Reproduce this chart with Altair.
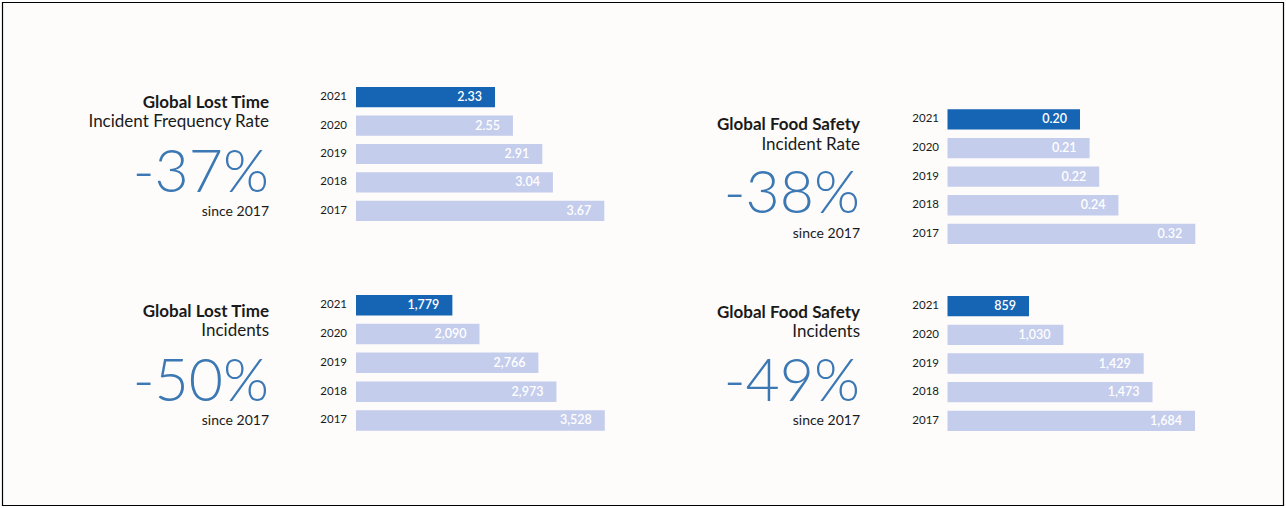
import altair as alt
import pandas as pd

# ---- data ----
years = ["2021", "2020", "2019", "2018", "2017"]
lost_time_rate = [2.33, 2.55, 2.91, 3.04, 3.67]
food_safety_rate = [0.20, 0.21, 0.22, 0.24, 0.32]
lost_time_incidents = [1779, 2090, 2766, 2973, 3528]
food_safety_incidents = [859, 1030, 1429, 1473, 1684]

titles = ["Global Lost Time", "Global Food Safety", "Global Lost Time", "Global Food Safety"]
subtitles = ["Incident Frequency Rate", "Incident Rate", "Incidents", "Incidents"]
changes = ["-37%", "-38%", "-50%", "-49%"]
since_label = "since 2017"
series = [lost_time_rate, food_safety_rate, lost_time_incidents, food_safety_incidents]
formats = [".2f", ".2f", ",d", ",d"]

# ---- layout / style ----
DARK = "#1565b4"
LIGHT = "#c5cdec"
BIG = "#3c78b4"
TXT = "#1a1a1a"
FONT = "Lato"
W, H = 1286, 508

layout = [
    dict(tx=269, yx=347, xr=[356, 604.3], dmin=0.626, yr=[87, 221], tb=[108, 127, 192, 216]),
    dict(tx=860, yx=939, xr=[947.5, 1195.3], dmin=0.0621, yr=[109.3, 244], tb=[130, 150, 213, 238]),
    dict(tx=269, yx=347, xr=[356, 604.8], dmin=673, yr=[295, 430.7], tb=[317, 336, 401, 425]),
    dict(tx=860, yx=939, xr=[947.5, 1195], dmin=454, yr=[296, 431], tb=[318, 337, 401, 425]),
]

border = alt.Chart(pd.DataFrame({"a": [0]})).mark_rect(
    fill="#fdfcfb", stroke="#000000", strokeWidth=1.2
).encode(x=alt.value(2.5), x2=alt.value(1283.5), y=alt.value(2.5), y2=alt.value(505.5))

panels = []
for i, vals in enumerate(series):
    L = layout[i]
    df = pd.DataFrame({"year": years, "value": vals,
                       "current": [y == "2021" for y in years]})
    xs = alt.Scale(domain=[L["dmin"], max(vals)], range=L["xr"], zero=False, nice=False)
    ys = alt.Scale(domain=years, range=L["yr"], paddingInner=0.29, paddingOuter=0)
    base = alt.Chart(df)
    bars = base.mark_bar(cornerRadius=0).encode(
        x=alt.X("value:Q", scale=xs, axis=None),
        x2=alt.datum(L["dmin"]),
        y=alt.Y("year:N", scale=ys, axis=None),
        color=alt.condition(alt.datum.current, alt.value(DARK), alt.value(LIGHT)),
    )
    labels = base.mark_text(align="right", baseline="middle", dx=-13, font=FONT,
                            fontSize=12.5, fontWeight=600, color="white").encode(
        x=alt.X("value:Q", scale=xs, axis=None),
        y=alt.Y("year:N", scale=ys, axis=None),
        text=alt.Text("value:Q", format=formats[i]),
    )
    yl = base.mark_text(align="right", baseline="middle", font=FONT, fontSize=11.5,
                        color=TXT).encode(
        x=alt.value(L["yx"]),
        y=alt.Y("year:N", scale=ys, axis=None),
        text="year:N",
    )
    tdf = pd.DataFrame({"title": [titles[i]], "subtitle": [subtitles[i]],
                        "change": [changes[i]], "since": [since_label]})
    tb = alt.Chart(tdf)
    t1 = tb.mark_text(align="right", baseline="alphabetic", font=FONT, fontSize=17,
                      fontWeight="bold", color=TXT).encode(
        x=alt.value(L["tx"]), y=alt.value(L["tb"][0]), text="title:N")
    t2 = tb.mark_text(align="right", baseline="alphabetic", font=FONT, fontSize=17,
                      color=TXT).encode(
        x=alt.value(L["tx"]), y=alt.value(L["tb"][1]), text="subtitle:N")
    t3 = tb.mark_text(align="right", baseline="alphabetic", font=FONT, fontSize=59,
                      fontWeight=300, color=BIG).encode(
        x=alt.value(L["tx"]), y=alt.value(L["tb"][2]), text="change:N")
    t4 = tb.mark_text(align="right", baseline="alphabetic", font=FONT, fontSize=14,
                      color=TXT).encode(
        x=alt.value(L["tx"]), y=alt.value(L["tb"][3]), text="since:N")
    panels.append(alt.layer(bars, labels, yl, t1, t2, t3, t4))

chart = alt.layer(border, *panels).resolve_scale(
    x="independent", y="independent", color="independent"
).properties(width=W, height=H, padding=0, autosize="none", background="#ffffff"
).configure_view(stroke=None)

chart.save("out.html", embed_options={"renderer": "svg", "actions": False})
